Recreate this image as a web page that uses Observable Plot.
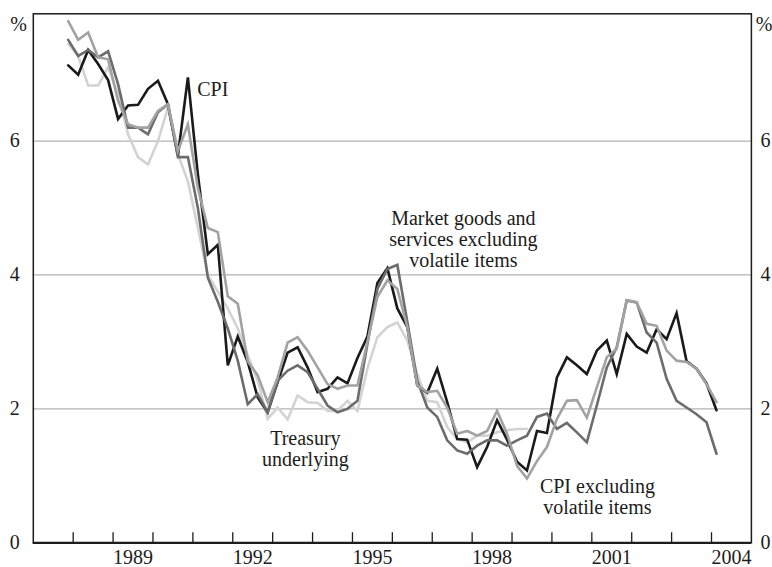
<!DOCTYPE html>
<html><head><meta charset="utf-8">
<script src="https://cdn.jsdelivr.net/npm/d3@7"></script>
<script src="https://cdn.jsdelivr.net/npm/@observablehq/plot@0.6"></script>
<style>
html,body{margin:0;padding:0;background:#fff;}
#chart svg{display:block;}
</style></head><body><div id="chart"></div>
<script>
// Quarterly, year-ended % change; first point = December quarter 1987 (mid-quarter)
const firstQuarter = 1987.875;
const quarterStep = 0.25;

const cpi = [7.13,6.99,7.36,7.15,6.91,6.33,6.53,6.54,6.78,6.9,6.55,5.78,6.95,5.5,4.31,4.45,2.65,3.08,2.7,2.17,
  1.95,2.4,2.84,2.92,2.62,2.25,2.3,2.47,2.38,2.76,3.08,3.88,4.1,3.5,3.22,2.35,2.24,2.6,2.1,1.55,
  1.54,1.13,1.43,1.83,1.54,1.21,1.08,1.67,1.64,2.47,2.77,2.65,2.52,2.87,3.02,2.52,3.12,2.93,2.84,3.19,
  3.04,3.43,2.71,2.6,2.38,1.98];
const marketGoods = [7.51,7.27,7.36,7.25,7.34,6.85,6.2,6.2,6.1,6.43,6.55,5.76,5.76,5.0,3.96,3.6,3.2,2.72,2.07,2.22,
  1.95,2.42,2.57,2.65,2.55,2.3,2.05,1.95,2.0,2.12,2.97,3.79,4.09,4.15,3.3,2.42,2.02,1.88,1.53,1.38,
  1.33,1.45,1.53,1.53,1.45,1.53,1.6,1.88,1.93,1.7,1.79,1.65,1.5,2.05,2.62,2.92,3.62,3.59,3.14,2.99,
  2.45,2.12,2.02,1.92,1.8,1.33];
const cpiExVolatile = [7.79,7.51,7.62,7.25,7.22,6.6,6.25,6.2,6.2,6.45,6.55,5.85,6.25,5.3,4.7,4.64,3.68,3.57,2.71,2.5,
  2.1,2.47,2.99,3.07,2.87,2.62,2.37,2.3,2.35,2.35,3.0,3.67,3.92,3.79,3.22,2.35,2.25,2.27,2.02,1.63,
  1.67,1.6,1.67,1.97,1.63,1.15,0.96,1.22,1.43,1.85,2.12,2.13,1.87,2.32,2.77,2.9,3.62,3.59,3.27,3.24,
  2.87,2.72,2.7,2.6,2.37,2.1];
const treasuryUnderlying = [7.45,7.27,6.83,6.83,7.1,6.7,6.1,5.76,5.65,6.0,6.5,5.8,5.4,4.7,4.0,3.75,3.5,3.2,2.8,2.42,
  1.85,2.02,1.84,2.2,2.1,2.09,1.97,1.97,2.12,1.97,2.6,3.07,3.22,3.29,3.02,2.52,2.12,2.1,1.73,1.55,
  1.5,1.6,1.6,1.65,1.68,1.7,1.7];

const yearTicks = [1988,1989,1990,1991,1992,1993,1994,1995,1996,1997,1998,1999,2000,2001,2002,2003,2004];
const yearLabels = [1989,1992,1995,1998,2001,2004];
const yTicks = [0,2,4,6];
const gridValues = [2,4,6];
const unitLabel = "%";
const unitLabelLevel = 7.74;

const labelsMiddle = [
  {text: "Market goods and\nservices excluding\nvolatile items", x: 1997.78, y: 4.53},
  {text: "Treasury\nunderlying", x: 1993.82, y: 1.41},
  {text: "CPI excluding\nvolatile items", x: 2001.14, y: 0.69}
];
const labelsStart = [{text: "CPI", x: 1991.11, y: 6.77}];

const toRows = (vals) => vals.map((v, i) => ({x: firstQuarter + i * quarterStep, y: v}));

const lineStyle = {x: "x", y: "y", strokeWidth: 2.6, strokeLinejoin: "miter", strokeMiterlimit: 4};
const ink = "#1c1c1c";

const chart = Plot.plot({
  width: 772, height: 567,
  marginLeft: 32.8, marginRight: 21.1, marginTop: 13.3, marginBottom: 24.7,
  style: {fontFamily: "'Liberation Serif','Times New Roman',serif", fontSize: "20px", color: ink, background: "#fff", overflow: "visible"},
  x: {domain: [1987, 2005], label: null},
  y: {domain: [0, 7.9], label: null},
  marks: [
    Plot.ruleY(gridValues, {stroke: "#b3b3b3", strokeWidth: 1.3}),
    Plot.ruleX(yearTicks, {y1: 0, y2: 0.15, stroke: ink, strokeWidth: 1.3}),
    Plot.line(toRows(treasuryUnderlying), {...lineStyle, stroke: "#d3d3d3"}),
    Plot.line(toRows(cpi), {...lineStyle, stroke: "#1a1a1a"}),
    Plot.line(toRows(marketGoods), {...lineStyle, stroke: "#6c6c6c"}),
    Plot.line(toRows(cpiExVolatile), {...lineStyle, stroke: "#a2a2a2"}),
    Plot.frame({stroke: ink, strokeWidth: 1.5}),
    Plot.ruleY([0], {stroke: ink, strokeWidth: 2.2}),
    Plot.axisX(yearLabels.map(d => d + 0.5), {tickSize: 0, tickPadding: 7, tickFormat: d => String(Math.floor(d)), label: null, fontSize: 20}),
    Plot.axisY(yTicks, {anchor: "left", tickSize: 0, tickPadding: 13.5, tickFormat: d => String(d), label: null, fontSize: 20}),
    Plot.axisY(yTicks, {anchor: "right", tickSize: 0, tickPadding: 9, tickFormat: d => String(d), label: null, fontSize: 20}),
    Plot.axisY([unitLabelLevel], {anchor: "left", tickSize: 0, tickPadding: 14.8, textAnchor: "middle", tickFormat: () => unitLabel, label: null, fontSize: 20}),
    Plot.axisY([unitLabelLevel], {anchor: "right", tickSize: 0, tickPadding: 12.6, textAnchor: "middle", tickFormat: () => unitLabel, label: null, fontSize: 20}),
    Plot.text(labelsMiddle, {x: "x", y: "y", text: "text", textAnchor: "middle", lineHeight: 1.05, fill: ink, fontSize: 20}),
    Plot.text(labelsStart, {x: "x", y: "y", text: "text", textAnchor: "start", fill: ink, fontSize: 20})
  ]
});
document.getElementById("chart").appendChild(chart);
</script></body></html>
